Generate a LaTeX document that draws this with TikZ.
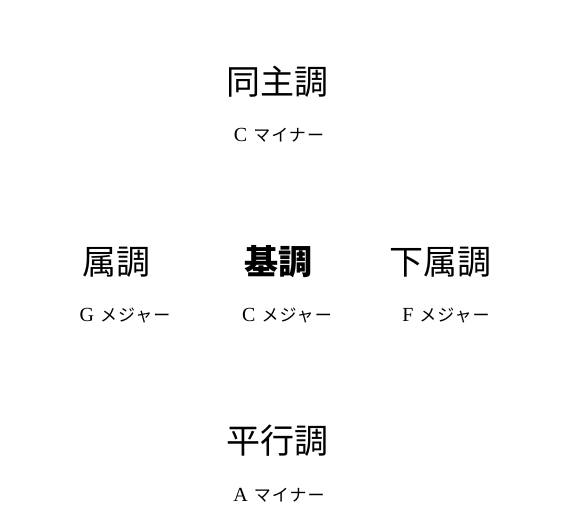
\documentclass[tikz,border=0pt]{standalone}
\usepackage{fontspec}
\setmainfont{Liberation Serif}
\newfontfamily\jp{Noto Sans CJK JP}
\newfontfamily\jpk[LetterSpace=6]{Noto Sans CJK JP}
\newcommand\kl[1]{{\fontsize{20}{20}\selectfont #1}}
\begin{document}
\begin{tikzpicture}[x=1pt,y=-1pt,
  title/.style={font=\jp\fontsize{34}{38}\selectfont, inner sep=0pt, anchor=center},
  keyname/.style={font=\fontsize{17}{20}\selectfont, inner sep=0pt, anchor=center}]
\useasboundingbox (0,0) rectangle (580,530);
\node[title] (dou) at (277,82) {同主調};
\node[keyname] (douk) at (279,135) {\kl{C}\hspace{6pt}{\jpk マイナー}};
\node[title] (zoku) at (116,262) {属調};
\node[title,font=\jp\bfseries\fontsize{34}{38}\selectfont] (ki) at (278,262) {基調};
\node[title] (kazoku) at (440,262) {下属調};
\node[keyname] (zokuk) at (125,316) {\kl{G}\hspace{6pt}{\jpk メジャー}};
\node[keyname] (kik) at (287,316) {\kl{C}\hspace{6pt}{\jpk メジャー}};
\node[keyname] (kazokuk) at (446,316) {\kl{F}\hspace{6pt}{\jpk メジャー}};
\node[title] (hei) at (277,441) {平行調};
\node[keyname] (heik) at (279,495) {\kl{A}\hspace{6pt}{\jpk マイナー}};
\end{tikzpicture}
\end{document}
